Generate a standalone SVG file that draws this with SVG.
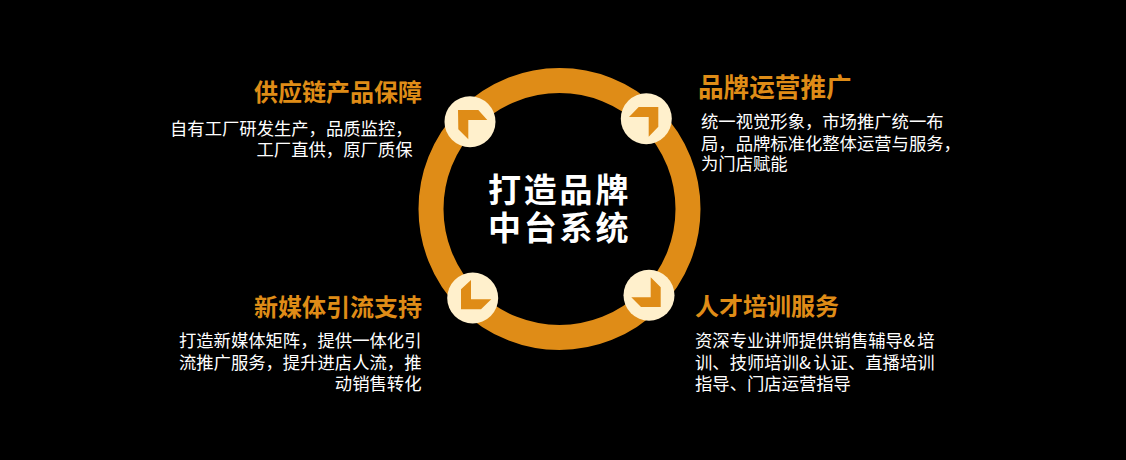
<svg xmlns="http://www.w3.org/2000/svg" width="1126" height="460" viewBox="0 0 1126 460">
<style>
text{font-family:"Noto Sans CJK SC","Liberation Sans",sans-serif}
.t{font-size:24px;font-weight:700;fill:#df8c17}
.b{font-size:17.33px;fill:#fff}
.c{font-size:33px;font-weight:700;fill:#fff;letter-spacing:2.8px}
.e{text-anchor:end}
.d{fill:#fff0cc}
.a{fill:#df8c17}
</style>
<rect width="1126" height="460" fill="#000"/>
<g id="ring"><circle cx="559.5" cy="209" r="128.5" fill="none" stroke="#df8c17" stroke-width="25"/></g>
<g id="center"><text class="c" x="488" y="202">打造品牌</text><text class="c" x="488" y="240">中台系统</text></g>
<g id="node-tl">
<circle class="d" cx="470" cy="121.7" r="25.5"/>
<polygon class="a" points="458,110 478.3,110 487.3,120 468.3,120 468.3,139.3 458.3,129.3"/>
<text class="t e" x="422" y="101">供应链产品保障</text>
<text class="b" x="170" y="135">自有工厂研发生产，品质监控，</text>
<text class="b e" x="412.5" y="156">工厂直供，原厂质保</text>
</g>
<g id="node-tr">
<circle class="d" cx="646.3" cy="118.7" r="25.5"/>
<polygon class="a" points="658.3,107 658.3,126.7 648.7,136.7 648.7,117 629,117 638.7,107"/>
<text class="t" x="698" y="97" style="font-size:25.6px">品牌运营推广</text>
<text class="b" x="701" y="128">统一视觉形象，市场推广统一布</text>
<text class="b" x="701" y="150">局，品牌标准化整体运营与服务，</text>
<text class="b" x="701" y="170">为门店赋能</text>
</g>
<g id="node-bl">
<circle class="d" cx="472.7" cy="298" r="25.5"/>
<polygon class="a" points="461,309.3 461,289.3 471,280 471,299.3 491.3,299.3 481,309.3"/>
<text class="t e" x="422" y="316">新媒体引流支持</text>
<text class="b e" x="421.5" y="347">打造新媒体矩阵，提供一体化引</text>
<text class="b e" x="421.5" y="369">流推广服务，提升进店人流，推</text>
<text class="b e" x="421.5" y="390">动销售转化</text>
</g>
<g id="node-br">
<circle class="d" cx="649" cy="295.3" r="25.5"/>
<polygon class="a" points="660.7,307 641,307 631.3,297.3 650.7,297.3 650.7,277.3 660.7,287.3"/>
<text class="t" x="695" y="315">人才培训服务</text>
<text class="b" x="695" y="347">资深专业讲师提供销售辅导&amp;<tspan dx="2.5">培</tspan></text>
<text class="b" x="695" y="369">训、技师培训&amp;<tspan dx="2.5">认证、直播培训</tspan></text>
<text class="b" x="695" y="390">指导、门店运营指导</text>
</g>
</svg>
